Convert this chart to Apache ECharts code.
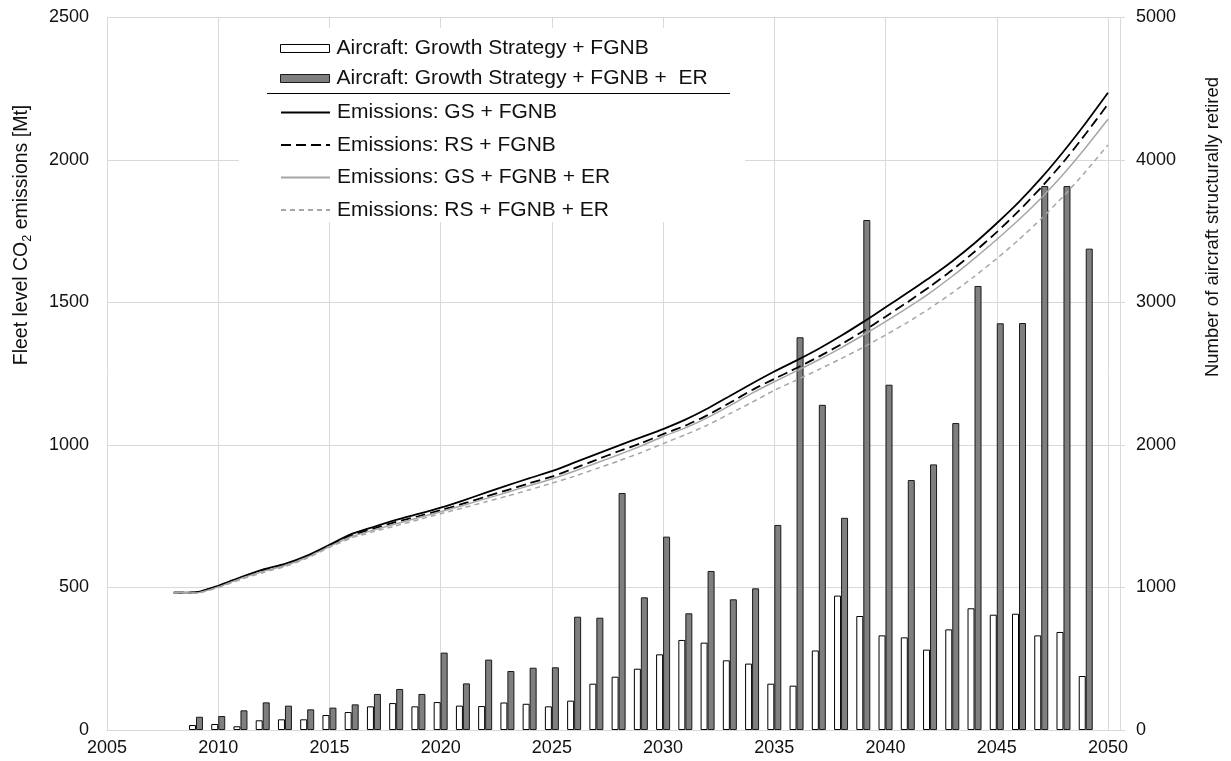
<!DOCTYPE html>
<html>
<head>
<meta charset="utf-8">
<script src="https://cdn.jsdelivr.net/npm/echarts@6/dist/echarts.min.js"></script>
<style>
  html, body { margin: 0; padding: 0; background: #fff; }
  #chart { width: 1231px; height: 761px; }
</style>
</head>
<body>
<div id="chart"></div>
<script>
// Years covered by the emission curves and by the retirement bars
const lineYears = [2008, 2009, 2010, 2011, 2012, 2013, 2014, 2015, 2016, 2017,
  2018, 2019, 2020, 2021, 2022, 2023, 2024, 2025, 2026, 2027,
  2028, 2029, 2030, 2031, 2032, 2033, 2034, 2035, 2036, 2037,
  2038, 2039, 2040, 2041, 2042, 2043, 2044, 2045, 2046, 2047,
  2048, 2049, 2050];
const barYears = [2009, 2010, 2011, 2012, 2013, 2014, 2015, 2016, 2017, 2018,
  2019, 2020, 2021, 2022, 2023, 2024, 2025, 2026, 2027, 2028,
  2029, 2030, 2031, 2032, 2033, 2034, 2035, 2036, 2037, 2038,
  2039, 2040, 2041, 2042, 2043, 2044, 2045, 2046, 2047, 2048,
  2049];

// Fleet level CO2 emissions [Mt]
const emisGS = [482, 483, 506, 536, 563, 583, 612, 650, 688, 713,
  737, 758, 780, 805, 832, 858, 884, 908, 938, 968,
  998, 1027, 1056, 1089, 1128, 1172, 1216, 1258, 1297, 1338,
  1383, 1432, 1483, 1535, 1588, 1645, 1708, 1778, 1853, 1937,
  2030, 2130, 2236];
const emisRS = [482, 483, 504, 534, 560, 580, 609, 647, 683, 707,
  730, 750, 771, 794, 818, 842, 866, 889, 918, 948,
  978, 1006, 1038, 1068, 1105, 1148, 1193, 1232, 1270, 1310,
  1353, 1400, 1450, 1502, 1556, 1614, 1678, 1747, 1822, 1904,
  1993, 2092, 2196];
const emisGSER = [482, 481, 502, 531, 556, 577, 606, 644, 679, 702,
  724, 745, 766, 788, 811, 834, 858, 881, 908, 937,
  966, 996, 1030, 1060, 1096, 1138, 1182, 1222, 1260, 1299,
  1341, 1386, 1433, 1482, 1534, 1592, 1655, 1721, 1791, 1867,
  1951, 2044, 2143];
const emisRSER = [482, 480, 500, 528, 552, 574, 603, 641, 674, 696,
  717, 738, 759, 779, 800, 821, 843, 866, 890, 917,
  944, 973, 1005, 1036, 1070, 1110, 1150, 1192, 1228, 1265,
  1303, 1343, 1386, 1431, 1480, 1534, 1592, 1654, 1721, 1794,
  1873, 1960, 2053];

// Number of aircraft structurally retired per year
const retiredGS = [35, 42, 26, 68, 75, 75, 105, 126, 166, 189,
  166, 196, 171, 168, 193, 184, 166, 206, 325, 374,
  430, 531, 632, 613, 489, 466, 325, 311, 558, 943,
  800, 664, 650, 564, 706, 854, 809, 816, 664, 688,
  379];
const retiredGSER = [93, 98, 138, 194, 171, 145, 157, 180, 253, 288,
  253, 543, 327, 494, 414, 437, 440, 795, 788, 1663,
  931, 1357, 819, 1116, 917, 994, 1439, 2756, 2282, 1489,
  3579, 2423, 1754, 1864, 2154, 3116, 2854, 2856, 3817, 3817,
  3378];

// Axis tick labels
const xTickLabels = [2005, 2010, 2015, 2020, 2025, 2030, 2035, 2040, 2045, 2050];
const leftTickLabels = [0, 500, 1000, 1500, 2000, 2500];
const rightTickLabels = [0, 1000, 2000, 3000, 4000, 5000];

const pairs = (xs, ys) => xs.map((x, i) => [x, ys[i]]);

const FONT = '"Liberation Sans", Arial, sans-serif';
const GRID_COLOR = '#d9d9d9';
const TEXT_COLOR = '#111';
const GRAY_LINE = '#a6a6a6';

const chart = echarts.init(document.getElementById('chart'), null, { renderer: 'canvas' });

const option = {
  backgroundColor: '#fff',
  animation: false,
  textStyle: { fontFamily: FONT },
  grid: { left: 107, right: 111, top: 17.5, bottom: 31 },
  xAxis: {
    type: 'value',
    min: xTickLabels[0],
    max: 2050.54,
    interval: 5,
    axisLine: { show: true, lineStyle: { color: GRID_COLOR, width: 1 } },
    axisTick: { show: false },
    splitLine: { show: true, lineStyle: { color: GRID_COLOR, width: 1 } },
    axisLabel: {
      color: TEXT_COLOR, fontSize: 18, fontFamily: FONT, margin: 9,
      showMaxLabel: false,
      formatter: v => (xTickLabels.indexOf(Math.round(v)) >= 0 && Math.abs(v - Math.round(v)) < 1e-6) ? String(Math.round(v)) : ''
    }
  },
  yAxis: [
    {
      type: 'value',
      min: leftTickLabels[0],
      max: leftTickLabels[leftTickLabels.length - 1],
      interval: 500,
      axisLine: { show: false },
      axisTick: { show: false },
      splitLine: { show: true, lineStyle: { color: GRID_COLOR, width: 1 } },
      axisLabel: { color: TEXT_COLOR, fontSize: 18, fontFamily: FONT, margin: 18, formatter: v => String(v) }
    },
    {
      type: 'value',
      min: rightTickLabels[0],
      max: rightTickLabels[rightTickLabels.length - 1],
      interval: 1000,
      position: 'right',
      axisLine: { show: true, lineStyle: { color: GRID_COLOR, width: 1 } },
      axisTick: { show: true, length: 5, lineStyle: { color: GRID_COLOR } },
      splitLine: { show: false },
      axisLabel: { color: TEXT_COLOR, fontSize: 18, fontFamily: FONT, margin: 16, formatter: v => String(v) }
    }
  ],
  legend: [
    {
      data: ['Aircraft: Growth Strategy + FGNB', 'Aircraft: Growth Strategy + FGNB +  ER'],
      orient: 'vertical',
      left: 280, top: 38,
      padding: 0,
      itemGap: 9,
      itemWidth: 49, itemHeight: 8,
      icon: 'rect',
      selectedMode: false,
      itemStyle: { borderWidth: 1 },
      textStyle: { color: TEXT_COLOR, fontSize: 21, fontFamily: FONT, padding: [0, 0, 0, 2] }
    },
    {
      data: ['Emissions: GS + FGNB', 'Emissions: RS + FGNB', 'Emissions: GS + FGNB + ER', 'Emissions: RS + FGNB + ER'],
      orient: 'vertical',
      left: 280, top: 102,
      padding: 0,
      itemGap: 11.5,
      itemWidth: 49, itemHeight: 8,
      selectedMode: false,
      itemStyle: { opacity: 0 },
      textStyle: { color: TEXT_COLOR, fontSize: 21, fontFamily: FONT, padding: [0, 0, 0, 2] }
    }
  ],
  graphic: [
    // white panel behind the legend
    { type: 'rect', z: 1, shape: { x: 239, y: 28, width: 506, height: 194 }, style: { fill: '#fff' } },
    // separator between bar and line entries
    { type: 'line', z: 5, shape: { x1: 267, y1: 93.5, x2: 730, y2: 93.5 }, style: { stroke: '#000', lineWidth: 1 } },
    // left axis title with subscript
    {
      type: 'text', z: 5, x: 22, y: 235, rotation: Math.PI / 2,
      style: {
        text: '{a|Fleet level CO}{s|2}{a| emissions [Mt]}',
        align: 'center', verticalAlign: 'middle',
        rich: {
          a: { fontSize: 19.5, fontFamily: FONT, fill: TEXT_COLOR, lineHeight: 24, verticalAlign: 'middle' },
          s: { fontSize: 12.5, fontFamily: FONT, fill: TEXT_COLOR, lineHeight: 12, verticalAlign: 'bottom' }
        }
      }
    },
    // right axis title
    {
      type: 'text', z: 5, x: 1213, y: 227, rotation: Math.PI / 2,
      style: {
        text: 'Number of aircraft structurally retired',
        align: 'center', verticalAlign: 'middle',
        font: '18.5px ' + FONT, fill: TEXT_COLOR
      }
    }
  ],
  series: [
    {
      name: 'Aircraft: Growth Strategy + FGNB',
      type: 'bar', yAxisIndex: 1,
      barWidth: 7, barGap: '0%',
      itemStyle: { color: '#ffffff', borderColor: '#000', borderWidth: 1 },
      data: pairs(barYears, retiredGS)
    },
    {
      name: 'Aircraft: Growth Strategy + FGNB +  ER',
      type: 'bar', yAxisIndex: 1,
      barWidth: 7, barGap: '0%',
      itemStyle: { color: '#7f7f7f', borderColor: '#1a1a1a', borderWidth: 1 },
      data: pairs(barYears, retiredGSER)
    },
    {
      name: 'Emissions: GS + FGNB',
      type: 'line', yAxisIndex: 0, symbol: 'none', z: 3, smooth: 0.2,
      lineStyle: { color: '#000', width: 1.8, type: 'solid' },
      itemStyle: { color: '#000' },
      data: pairs(lineYears, emisGS)
    },
    {
      name: 'Emissions: RS + FGNB',
      type: 'line', yAxisIndex: 0, symbol: 'none', z: 3, smooth: 0.2,
      lineStyle: { color: '#000', width: 1.8, type: [10, 5] },
      itemStyle: { color: '#000' },
      data: pairs(lineYears, emisRS)
    },
    {
      name: 'Emissions: GS + FGNB + ER',
      type: 'line', yAxisIndex: 0, symbol: 'none', z: 3, smooth: 0.2,
      lineStyle: { color: GRAY_LINE, width: 1.5, type: 'solid' },
      itemStyle: { color: GRAY_LINE },
      data: pairs(lineYears, emisGSER)
    },
    {
      name: 'Emissions: RS + FGNB + ER',
      type: 'line', yAxisIndex: 0, symbol: 'none', z: 3, smooth: 0.2,
      lineStyle: { color: GRAY_LINE, width: 1.5, type: [5, 4] },
      itemStyle: { color: GRAY_LINE },
      data: pairs(lineYears, emisRSER)
    }
  ]
};

chart.setOption(option);
</script>
</body>
</html>
